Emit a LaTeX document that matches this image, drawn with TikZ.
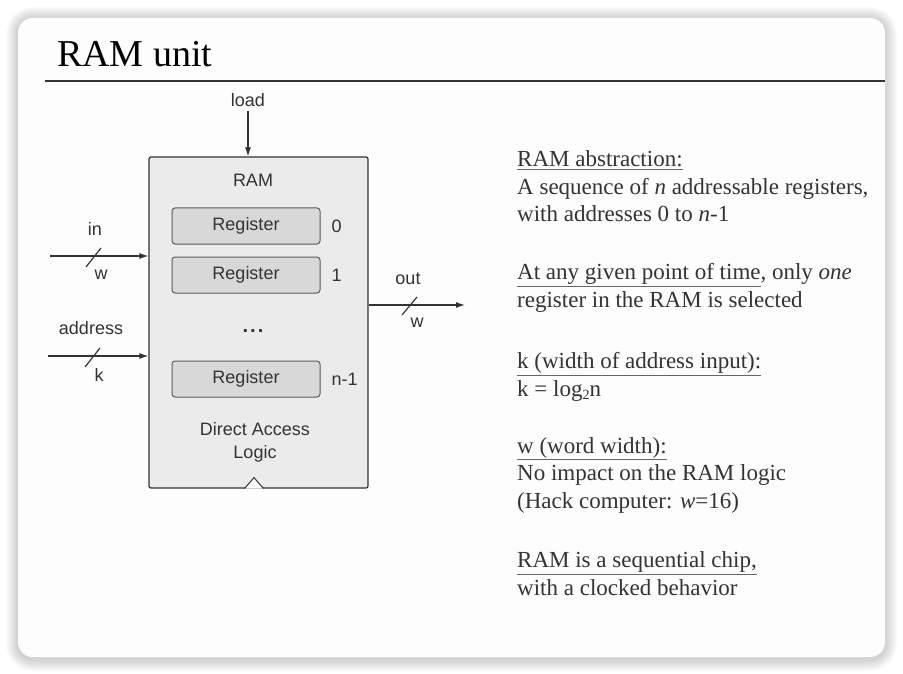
\documentclass[tikz,border=0pt]{standalone}
\usepackage{fontspec}
\setmainfont{Liberation Serif}
\setsansfont{Liberation Sans}
\usetikzlibrary{arrows.meta,positioning}
\definecolor{ink}{HTML}{333333}
\definecolor{chipfill}{HTML}{EBEBEB}
\definecolor{regfill}{HTML}{D8D8D8}
\definecolor{cardfill}{HTML}{FDFDFD}
\newcommand\ulgray[1]{\textcolor{ink!75}{\underline{\textcolor{ink}{#1}}}}
\tikzset{
  chip/.style={draw=ink, line width=1.2pt, fill=chipfill, rounded corners=2pt,
    minimum width=219pt, minimum height=331pt, inner sep=0pt},
  regbox/.style={draw=ink!80, line width=1pt, fill=regfill, rounded corners=3pt,
    minimum width=148pt, minimum height=36pt, text=ink,
    font=\sffamily\fontsize{18}{20}\selectfont},
  lbl/.style={font=\sffamily\fontsize{18}{23}\selectfont, text=ink, inner sep=0pt},
  wire/.style={draw=ink, line width=1.2pt, -{Latex[length=9pt,width=6pt]}},
  slash/.style={draw=ink, line width=1.2pt},
  para/.style={anchor=base west, align=left, inner sep=0pt, text=ink,
    font=\fontsize{23}{27.5}\selectfont},
}
\begin{document}
\begin{tikzpicture}[x=1pt,y=-1pt]
  \useasboundingbox (0,0) rectangle (903,674);
  % card with soft shadow
  \foreach \s [evaluate=\s as \r using 15+\s] in {1,...,12}
    \fill[black, opacity=0.015, rounded corners=\r pt] (18-\s,19-\s) rectangle (885+\s,659+\s);
  \fill[cardfill, rounded corners=15pt] (18,18) rectangle (885,657);

  % title
  \node[anchor=base west, inner sep=0pt, text=black, font=\fontsize{38}{42}\selectfont] (title) at (57,67) {RAM unit};
  \draw[ink, line width=1.5pt] (45,81) -- (885,81);

  % the chip
  \node[chip] (ram) at (258.5,322.5) {};
  \node[lbl] (ramL) at (253,180) {RAM};
  \foreach \i/\y/\idx in {r0/226/0, r1/275/1, rn/379/n-1}{
    \node[regbox] (\i) at (246,\y) {Register};
    \node[lbl, anchor=west, right=11pt of \i] (\i l) {\idx};
  }
  \node[lbl, anchor=base, font=\sffamily\bfseries\fontsize{20}{23}\selectfont] (dots) at (253,332) {.\kern2pt.\kern2pt.};
  \node[lbl, align=center] (dal) at (255,442) {Direct Access\\Logic};
  % clock
  \coordinate (clk) at ([xshift=-4.5pt]ram.south);
  \draw[ink, line width=1pt, fill=cardfill] ([xshift=-9.5pt]clk) -- ([yshift=11pt]clk) -- ([xshift=9.5pt]clk);

  % load
  \node[lbl] (load) at (248,100) {load};
  \draw[wire] ([yshift=-4pt]load.south) -- (load |- ram.north);

  % in
  \coordinate (inS) at (50,256);
  \draw[wire] (inS) -- (inS -| ram.west);
  \draw[slash] (86,267) -- (101,248);
  \node[lbl] (inL) at (95,229) {in};
  \node[lbl] (inW) at (101,275) {w};

  % address
  \coordinate (adS) at (48,356);
  \draw[wire] (adS) -- (adS -| ram.west);
  \draw[slash] (85,367) -- (100,348);
  \node[lbl] (adL) at (91,328) {address};
  \node[lbl] (adK) at (99,375) {k};

  % out
  \coordinate (outE) at (465,305);
  \draw[wire] (outE -| ram.east) -- (outE);
  \draw[slash] (402,315) -- (417,297);
  \node[lbl] (outL) at (408,279) {out};
  \node[lbl] (outW) at (417,323) {w};

  % notes (anchored at the last line)
  \node[para] (abs) at (517,222) {\ulgray{RAM abstraction:}\\
    A sequence of \textit{n} addressable registers,\\
    with addresses 0 to \textit{n}-1};
  \node[para] (sel) at (517,307) {\ulgray{At any given point of time}, only \textit{one}\\
    register in the RAM is selected};
  \node[para] (kw) at (517,396) {\ulgray{k (width of address input):}\\
    k = log{\fontsize{14}{14}\selectfont\raisebox{-3pt}{2}}n};
  \node[para] (ww) at (517,508) {\ulgray{w (word width):}\\
    No impact on the RAM logic\\
    (Hack computer: \textit{w}=16)};
  \node[para] (seq) at (517,595) {\ulgray{RAM is a sequential chip,}\\
    with a clocked behavior};
\end{tikzpicture}
\end{document}
